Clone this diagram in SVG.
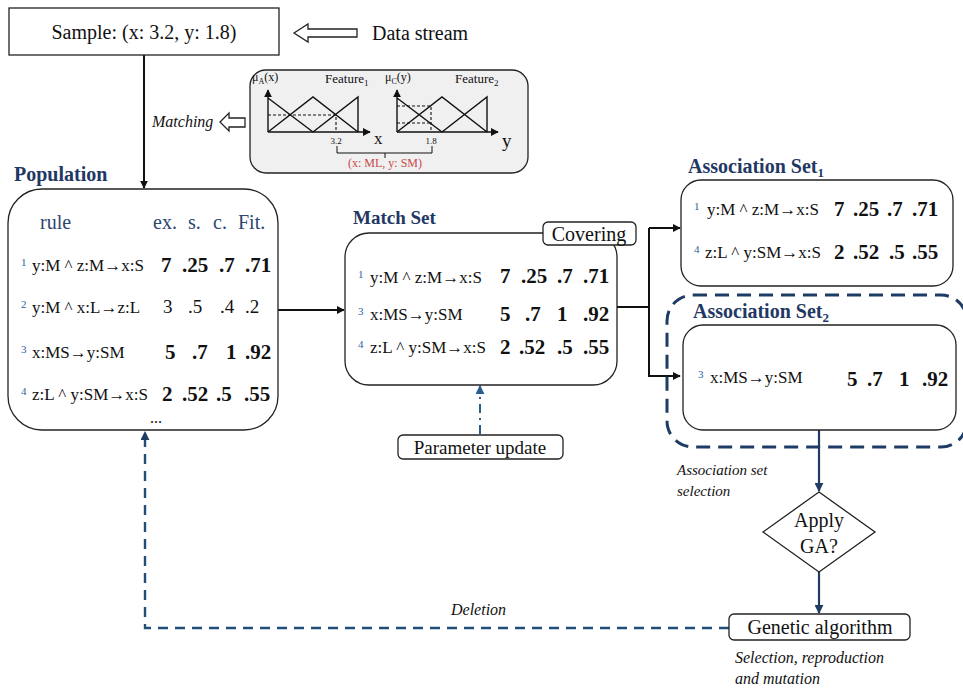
<svg xmlns="http://www.w3.org/2000/svg" width="963" height="688" viewBox="0 0 963 688">
  <style>
    text { font-family: "Liberation Serif", "Times New Roman", serif; fill: #111; }
    .box { fill: #fff; stroke: #222; stroke-width: 1.3; }
    .title { font-weight: bold; fill: #1f3864; font-size: 20px; }
    .hdr { fill: #2c4770; font-size: 20px; }
    .rule { font-size: 17px; }
    .idx { font-size: 11px; fill: #2e5fa0; }
    .val { font-size: 21px; font-weight: bold; }
    .valn { font-size: 19px; }
    .lbl { font-size: 20px; }
    .ital { font-style: italic; font-size: 15px; }
    .conn { stroke: #111; stroke-width: 2; fill: none; }
    .navy { stroke: #1f3c64; stroke-width: 2.2; fill: none; }
    .mf { stroke: #111; stroke-width: 1.4; fill: none; }
    .dash { stroke: #111; stroke-width: 1.1; stroke-dasharray: 3 2; fill: none; }
  </style>
  <defs>
    <marker id="ah" viewBox="0 0 10 10" refX="9" refY="5" markerWidth="8" markerHeight="8" markerUnits="userSpaceOnUse" orient="auto">
      <path d="M0,0 L10,5 L0,10 z" fill="#111"/>
    </marker>
    <marker id="ahn" viewBox="0 0 10 10" refX="9" refY="5" markerWidth="9" markerHeight="9" markerUnits="userSpaceOnUse" orient="auto">
      <path d="M0,0 L10,5 L0,10 z" fill="#1f3c64"/>
    </marker>
    <marker id="ahb" viewBox="0 0 10 10" refX="9" refY="5" markerWidth="9" markerHeight="9" markerUnits="userSpaceOnUse" orient="auto">
      <path d="M0,0 L10,5 L0,10 z" fill="#2a5d8f"/>
    </marker>
    <marker id="axa" viewBox="0 0 10 10" refX="9" refY="5" markerWidth="8" markerHeight="8" markerUnits="userSpaceOnUse" orient="auto">
      <path d="M0,0 L10,5 L0,10 z" fill="#111"/>
    </marker>
  </defs>

  <!-- connectors -->
  <g id="connectors">
    <line class="conn" x1="144" y1="55" x2="144" y2="188" marker-end="url(#ah)"/>
    <line class="conn" x1="278" y1="310" x2="344" y2="310" marker-end="url(#ah)"/>
    <polyline class="conn" points="617,307 649,307"/>
    <polyline class="conn" points="649,228 649,376 680,376" marker-end="url(#ah)"/>
    <line class="conn" x1="649" y1="228" x2="680" y2="228" marker-end="url(#ah)"/>
    <line class="navy" x1="819" y1="430" x2="819" y2="491" marker-end="url(#ahn)"/>
    <line class="navy" x1="819" y1="572" x2="819" y2="613" marker-end="url(#ahn)"/>
    <polyline points="729,628 145,628 145,432" fill="none" stroke="#1f4e79" stroke-width="2.4" stroke-dasharray="10 7" marker-end="url(#ahn)"/>
    <line x1="480" y1="434" x2="480" y2="386" stroke="#2a5d8f" stroke-width="2" stroke-dasharray="9 5 2 5" marker-end="url(#ahb)"/>
    <!-- hollow arrows -->
    <polygon points="294,33 308,24 308,29 357,29 357,37 308,37 308,42" fill="#fff" stroke="#222" stroke-width="1.3"/>
    <polygon points="220,122 229,113 229,118 245,118 245,127 229,127 229,131" fill="#fff" stroke="#222" stroke-width="1.3"/>
  </g>

  <!-- sample input -->
  <g id="sample">
    <rect class="box" x="9" y="8" width="270" height="47"/>
    <text class="lbl" x="144" y="39" text-anchor="middle">Sample: (x: 3.2, y: 1.8)</text>
  </g>
  <g id="data-stream">
    <text class="lbl" x="372" y="40">Data stream</text>
  </g>
  <g id="matching">
    <text class="ital" x="152" y="127" style="font-size:16px">Matching</text>
  </g>

  <!-- fuzzy membership panel -->
  <g id="fuzzy-panel">
    <rect x="250" y="70" width="278" height="103" rx="16" fill="#f0f0f0" stroke="#222" stroke-width="1.3"/>
    <!-- feature 1 -->
    <line class="mf" x1="268" y1="132" x2="268" y2="90" marker-end="url(#axa)"/>
    <line class="mf" x1="268" y1="132" x2="370" y2="132" marker-end="url(#axa)"/>
    <polyline class="mf" points="268,98 313,132"/>
    <polyline class="mf" points="268,132 313,97 358,132"/>
    <polyline class="mf" points="313,132 358,97 358,132"/>
    <polyline class="dash" points="268,115 336,115 336,132"/>
    <text x="252" y="81" style="font-size:12px">μ<tspan style="font-size:8px" dy="3">A</tspan><tspan dy="-3">(x)</tspan></text>
    <text x="325" y="83" style="font-size:13px">Feature<tspan style="font-size:9px" dy="3">1</tspan></text>
    <text x="336" y="144" text-anchor="middle" style="font-size:9px">3.2</text>
    <text x="374" y="144" style="font-size:17px">x</text>
    <!-- feature 2 -->
    <line class="mf" x1="397" y1="132" x2="397" y2="90" marker-end="url(#axa)"/>
    <line class="mf" x1="397" y1="132" x2="498" y2="132" marker-end="url(#axa)"/>
    <polyline class="mf" points="397,98 442,132"/>
    <polyline class="mf" points="397,132 442,97 487,132"/>
    <polyline class="mf" points="442,132 487,97 487,132"/>
    <polyline class="dash" points="397,106 431,106 431,132"/>
    <polyline class="dash" points="397,123 431,123"/>
    <text x="385" y="81" style="font-size:12px">μ<tspan style="font-size:8px" dy="3">C</tspan><tspan dy="-3">(y)</tspan></text>
    <text x="455" y="83" style="font-size:13px">Feature<tspan style="font-size:9px" dy="3">2</tspan></text>
    <text x="431" y="144" text-anchor="middle" style="font-size:9px">1.8</text>
    <text x="502" y="147" style="font-size:19px">y</text>
    <!-- bracket -->
    <polyline points="337,146 337,153 432,153 432,146" fill="none" stroke="#111" stroke-width="1"/>
    <line x1="385" y1="153" x2="385" y2="158" stroke="#111" stroke-width="1"/>
    <text x="385" y="167" text-anchor="middle" style="font-size:12px; fill:#c94a4a">(x: ML, y: SM)</text>
  </g>

  <!-- population -->
  <g id="population">
    <text class="title" x="14" y="181">Population</text>
    <rect class="box" x="8" y="189" width="270" height="241" rx="34"/>
    <text class="hdr" x="40" y="229">rule</text>
    <text class="hdr" x="153" y="229">ex.</text>
    <text class="hdr" x="188" y="229">s.</text>
    <text class="hdr" x="213" y="229">c.</text>
    <text class="hdr" x="238" y="229">Fit.</text>

    <text class="idx" x="21" y="266">1</text>
    <text class="rule" x="32" y="271">y:M ^ z:M→x:S</text>
    <text class="val" x="161" y="272">7</text>
    <text class="val" x="182" y="272">.25</text>
    <text class="val" x="219" y="272">.7</text>
    <text class="val" x="245" y="272">.71</text>

    <text class="idx" x="21" y="308">2</text>
    <text class="rule" x="32" y="313">y:M ^ x:L→z:L</text>
    <text class="valn" x="163" y="313">3</text>
    <text class="valn" x="188" y="313">.5</text>
    <text class="valn" x="220" y="313">.4</text>
    <text class="valn" x="245" y="313">.2</text>

    <text class="idx" x="21" y="353">3</text>
    <text class="rule" x="32" y="358">x:MS→y:SM</text>
    <text class="val" x="165" y="359">5</text>
    <text class="val" x="192" y="359">.7</text>
    <text class="val" x="226" y="359">1</text>
    <text class="val" x="245" y="359">.92</text>

    <text class="idx" x="21" y="395">4</text>
    <text class="rule" x="32" y="400">z:L ^ y:SM→x:S</text>
    <text class="val" x="162" y="401">2</text>
    <text class="val" x="182" y="401">.52</text>
    <text class="val" x="216" y="401">.5</text>
    <text class="val" x="244" y="401">.55</text>

    <text x="150" y="423" style="font-size:16px">...</text>
  </g>

  <!-- match set -->
  <g id="match-set">
    <text class="title" x="353" y="224" style="font-size:19px">Match Set</text>
    <rect class="box" x="345" y="233" width="272" height="152" rx="24"/>
    <text class="idx" x="358" y="278">1</text>
    <text class="rule" x="370" y="283">y:M ^ z:M→x:S</text>
    <text class="val" x="500" y="283">7</text>
    <text class="val" x="521" y="283">.25</text>
    <text class="val" x="557" y="283">.7</text>
    <text class="val" x="583" y="283">.71</text>

    <text class="idx" x="358" y="315">3</text>
    <text class="rule" x="370" y="320">x:MS→y:SM</text>
    <text class="val" x="500" y="321">5</text>
    <text class="val" x="525" y="321">.7</text>
    <text class="val" x="557" y="321">1</text>
    <text class="val" x="583" y="321">.92</text>

    <text class="idx" x="358" y="348">4</text>
    <text class="rule" x="370" y="353">z:L ^ y:SM→x:S</text>
    <text class="val" x="500" y="354">2</text>
    <text class="val" x="519" y="354">.52</text>
    <text class="val" x="557" y="354">.5</text>
    <text class="val" x="583" y="354">.55</text>
  </g>
  <g id="covering">
    <rect class="box" x="543" y="222" width="93" height="23" rx="5"/>
    <text class="lbl" x="589" y="241" text-anchor="middle">Covering</text>
  </g>
  <g id="parameter-update">
    <rect class="box" x="398" y="435" width="165" height="24" rx="5"/>
    <text class="lbl" x="480" y="454" text-anchor="middle" style="font-size:19px">Parameter update</text>
  </g>

  <!-- association set 1 -->
  <g id="association-set-1">
    <text class="title" x="688" y="173">Association Set<tspan style="font-size:13px" dy="4">1</tspan></text>
    <rect class="box" x="681" y="180" width="272" height="106" rx="20"/>
    <text class="idx" x="694" y="210">1</text>
    <text class="rule" x="707" y="215">y:M ^ z:M→x:S</text>
    <text class="val" x="834" y="216">7</text>
    <text class="val" x="853" y="216">.25</text>
    <text class="val" x="887" y="216">.7</text>
    <text class="val" x="912" y="216">.71</text>
    <text class="idx" x="694" y="253">4</text>
    <text class="rule" x="705" y="258">z:L ^ y:SM→x:S</text>
    <text class="val" x="834" y="259">2</text>
    <text class="val" x="853" y="259">.52</text>
    <text class="val" x="889" y="259">.5</text>
    <text class="val" x="912" y="259">.55</text>
  </g>

  <!-- association set 2 -->
  <g id="association-set-2">
    <rect x="667" y="295" width="300" height="152" rx="26" fill="none" stroke="#1f3c64" stroke-width="3" stroke-dasharray="14 8"/>
    <text class="title" x="693" y="318">Association Set<tspan style="font-size:13px" dy="4">2</tspan></text>
    <rect class="box" x="683" y="325" width="273" height="105" rx="20"/>
    <text class="idx" x="698" y="378">3</text>
    <text class="rule" x="710" y="383">x:MS→y:SM</text>
    <text class="val" x="847" y="386">5</text>
    <text class="val" x="867" y="386">.7</text>
    <text class="val" x="899" y="386">1</text>
    <text class="val" x="922" y="386">.92</text>
  </g>
  <g id="selection-label">
    <text class="ital" x="677" y="475">Association set</text>
    <text class="ital" x="677" y="496">selection</text>
  </g>

  <!-- GA decision -->
  <g id="apply-ga">
    <polygon points="819,492 875,532 819,572 763,532" fill="#fff" stroke="#222" stroke-width="1.3"/>
    <text class="lbl" x="819" y="527" text-anchor="middle">Apply</text>
    <text class="lbl" x="819" y="553" text-anchor="middle">GA?</text>
  </g>
  <g id="genetic-algorithm">
    <rect class="box" x="729" y="614" width="181" height="26" rx="5"/>
    <text class="lbl" x="820" y="634" text-anchor="middle">Genetic algorithm</text>
    <text class="ital" x="735" y="663" style="font-size:16px">Selection, reproduction</text>
    <text class="ital" x="735" y="684" style="font-size:16px">and mutation</text>
  </g>
  <g id="deletion">
    <text class="ital" x="451" y="615" style="font-size:16px">Deletion</text>
  </g>
</svg>
